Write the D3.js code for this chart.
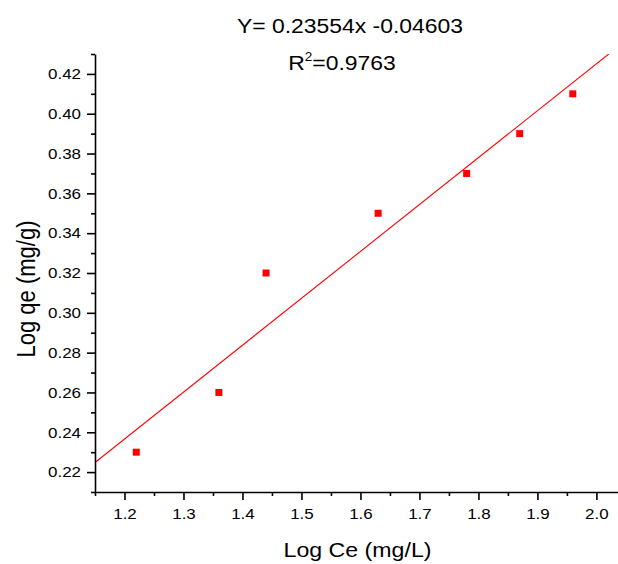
<!DOCTYPE html>
<html>
<head>
<meta charset="utf-8">
<script src="https://cdn.jsdelivr.net/npm/d3@7"></script>
<style>
  html, body { margin: 0; padding: 0; background: #fff; }
  svg { display: block; }
  text { font-family: "Liberation Sans", Arial, sans-serif; fill: #000; }
</style>
</head>
<body>
<svg id="chart" width="618" height="564"></svg>
<script>
// ---- data ----
const logCe = [1.22, 1.36, 1.44, 1.63, 1.78, 1.87, 1.96];
const logQe = [0.23, 0.26, 0.32, 0.35, 0.37, 0.39, 0.41];
const fitSlope = 0.23554;
const fitIntercept = -0.04603;
const fitLabel = "Y= 0.23554x -0.04603";
const r2Value = "=0.9763";
const xTicks = [1.2, 1.3, 1.4, 1.5, 1.6, 1.7, 1.8, 1.9, 2.0];
const xMinorTicks = [1.15, 1.25, 1.35, 1.45, 1.55, 1.65, 1.75, 1.85, 1.95];
const yTicks = [0.22, 0.24, 0.26, 0.28, 0.30, 0.32, 0.34, 0.36, 0.38, 0.40, 0.42];
const yMinorTicks = [0.21, 0.23, 0.25, 0.27, 0.29, 0.31, 0.33, 0.35, 0.37, 0.39, 0.41, 0.43];
const xTitle = "Log Ce (mg/L)";
const yTitle = "Log qe (mg/g)";

// ---- layout ----
const SX = 1.13; // horizontal text stretch
const svg = d3.select("#chart");
const x = d3.scaleLinear().domain([1.15, 2.04]).range([95, 620]);
const y = d3.scaleLinear().domain([0.21, 0.43]).range([492, 54]);

svg.append("defs").append("clipPath").attr("id", "plotclip")
  .append("rect").attr("x", x(1.15)).attr("y", y(0.43))
  .attr("width", x(2.04) - x(1.15)).attr("height", y(0.21) - y(0.43));

// fit line
const fx = [1.15, 2.04];
svg.append("g").attr("clip-path", "url(#plotclip)")
  .append("line")
  .attr("x1", x(fx[0])).attr("y1", y(fitSlope * fx[0] + fitIntercept))
  .attr("x2", x(fx[1])).attr("y2", y(fitSlope * fx[1] + fitIntercept))
  .attr("stroke", "#ff0000").attr("stroke-width", 1.1);

// points
svg.append("g").selectAll("rect").data(logCe).join("rect")
  .attr("x", (d) => x(d) - 3.5)
  .attr("y", (d, i) => y(logQe[i]) - 3.5)
  .attr("width", 7).attr("height", 7)
  .attr("fill", "#ff0000");

// axes
function styleAxis(g) {
  g.selectAll("path.domain").attr("stroke", "#000").attr("stroke-width", 1.6);
  g.selectAll(".tick line").attr("stroke", "#000").attr("stroke-width", 1.6);
  g.selectAll(".tick text").attr("font-size", 15)
    .attr("font-family", "'Liberation Sans', Arial, sans-serif").attr("fill", "#000");
}

// x axis
const gx = svg.append("g").attr("transform", `translate(0,${y(0.21)})`)
  .call(d3.axisBottom(x).tickValues(xTicks).tickFormat(d3.format(".1f")).tickSize(8).tickPadding(8).tickSizeOuter(0));
styleAxis(gx);
gx.selectAll(".tick text").attr("transform", `scale(${SX},1)`).attr("x", 0);
const gxm = svg.append("g").attr("transform", `translate(0,${y(0.21)})`)
  .call(d3.axisBottom(x).tickValues(xMinorTicks).tickFormat("").tickSize(4).tickSizeOuter(0));
gxm.select("path.domain").remove();
styleAxis(gxm);

// y axis
const gy = svg.append("g").attr("transform", `translate(${x(1.15)},0)`)
  .call(d3.axisLeft(y).tickValues(yTicks).tickFormat(d3.format(".2f")).tickSize(8).tickPadding(6).tickSizeOuter(0));
styleAxis(gy);
gy.selectAll(".tick text").attr("transform", `scale(${SX},1)`)
  .attr("x", -14 / SX);
const gym = svg.append("g").attr("transform", `translate(${x(1.15)},0)`)
  .call(d3.axisLeft(y).tickValues(yMinorTicks).tickFormat("").tickSize(4).tickSizeOuter(0));
gym.select("path.domain").remove();
styleAxis(gym);

// axis titles
svg.append("text")
  .attr("transform", `translate(${(x(1.15) + x(2.04)) / 2},557) scale(${SX},1)`)
  .attr("text-anchor", "middle").attr("font-size", 20.5).text(xTitle);
svg.append("text")
  .attr("transform", `translate(35,289) scale(${SX},1) rotate(-90)`)
  .attr("text-anchor", "middle").attr("font-size", 22).text(yTitle);

// annotation
svg.append("text")
  .attr("transform", `translate(350,33) scale(${SX},1)`)
  .attr("text-anchor", "middle").attr("font-size", 20.3).text(fitLabel);
const r2 = svg.append("text")
  .attr("transform", `translate(342,70) scale(${SX},1)`)
  .attr("text-anchor", "middle").attr("font-size", 20.3);
r2.append("tspan").text("R");
r2.append("tspan").attr("font-size", 12).attr("dy", -9).text("2");
r2.append("tspan").attr("dy", 9).text(r2Value);
</script>
</body>
</html>
